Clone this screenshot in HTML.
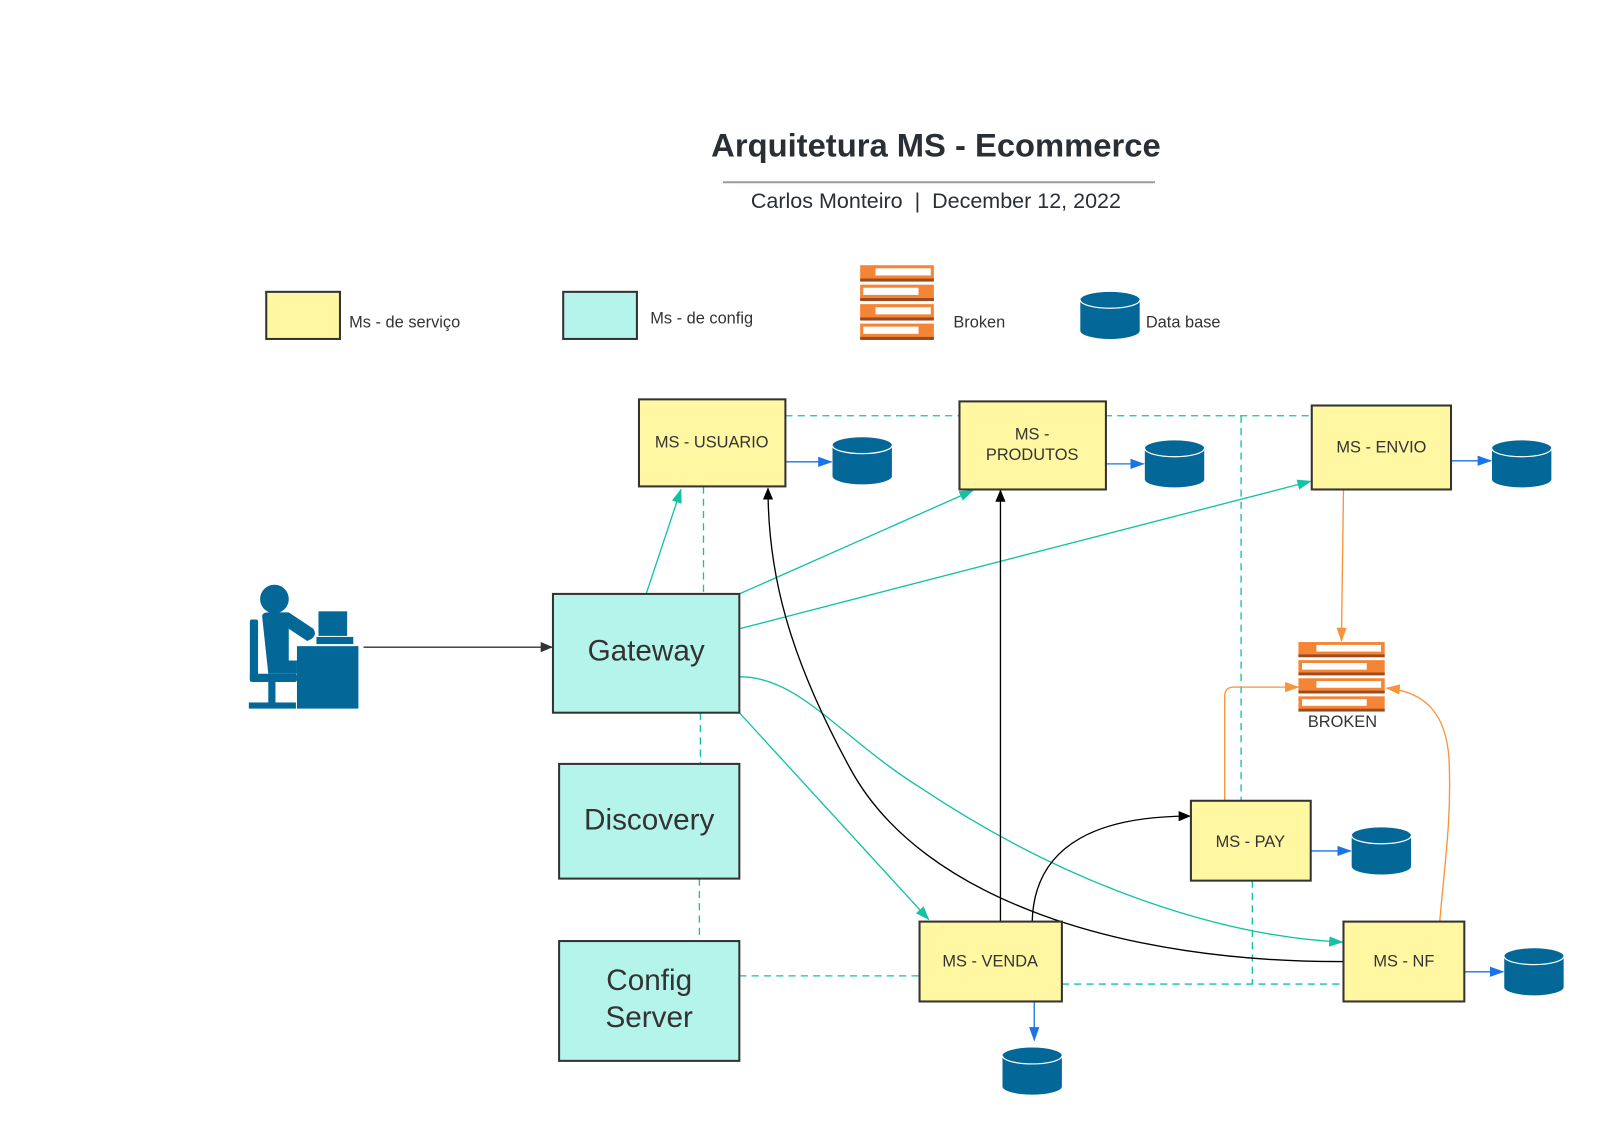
<!DOCTYPE html>
<html><head><meta charset="utf-8"><style>
html,body{margin:0;padding:0;background:#fff;}
svg{display:block;font-family:"Liberation Sans",Arial,sans-serif;}
</style></head><body>
<svg width="1606" height="1142" viewBox="0 0 1606 1142" xmlns="http://www.w3.org/2000/svg">
<defs>
<marker id="ad" markerWidth="12" markerHeight="10" refX="11" refY="5" orient="auto" markerUnits="userSpaceOnUse"><path d="M0,0 L12,5 L0,10 z" fill="#333"/></marker>
<marker id="ab" markerWidth="12" markerHeight="10" refX="11" refY="5" orient="auto" markerUnits="userSpaceOnUse"><path d="M0,0 L12,5 L0,10 z" fill="#000"/></marker>
<marker id="at" markerWidth="14" markerHeight="10" refX="13" refY="5" orient="auto" markerUnits="userSpaceOnUse"><path d="M0,0 L14,5 L0,10 z" fill="#11c2a6"/></marker>
<marker id="ao" markerWidth="14" markerHeight="10" refX="13" refY="5" orient="auto" markerUnits="userSpaceOnUse"><path d="M0,0 L14,5 L0,10 z" fill="#f7943a"/></marker>
<marker id="abl" markerWidth="14" markerHeight="10" refX="13" refY="5" orient="auto" markerUnits="userSpaceOnUse"><path d="M0,0 L14,5 L0,10 z" fill="#1a73e8"/></marker>
<g id="db"><path d="M0,8 A29,8 0 0 1 58,8 L58,38 A29,8 0 0 1 0,38 Z" fill="#036897"/><path d="M0,8 A29,8 0 0 0 58,8" fill="none" stroke="#fff" stroke-width="1.2"/></g>
<g id="brk">
<rect x="0" y="0" width="72" height="15" fill="#f58536"/><rect x="0" y="13" width="72" height="3" fill="#9c4a1e"/><rect x="15" y="3" width="54" height="7" fill="#fff"/>
<rect x="0" y="19" width="72" height="15" fill="#f58536"/><rect x="0" y="32" width="72" height="3" fill="#9c4a1e"/><rect x="3" y="22" width="54" height="7" fill="#fff"/>
<rect x="0" y="38" width="72" height="15" fill="#f58536"/><rect x="0" y="51" width="72" height="3" fill="#9c4a1e"/><rect x="15" y="41" width="54" height="7" fill="#fff"/>
<rect x="0" y="57" width="72" height="15" fill="#f58536"/><rect x="0" y="70" width="72" height="3" fill="#9c4a1e"/><rect x="3" y="60" width="54" height="7" fill="#fff"/>
</g>
</defs>
<g transform="scale(1.024)">
<text x="914" y="153" text-anchor="middle" font-size="32" font-weight="bold" fill="#2a2f36">Arquitetura MS - Ecommerce</text>
<line x1="706" y1="178" x2="1128" y2="178" stroke="#9a9ca3" stroke-width="2"/>
<text x="914" y="203" text-anchor="middle" font-size="21" fill="#2a2f36" xml:space="preserve">Carlos Monteiro&#160; | &#160;December 12, 2022</text>

<rect x="260" y="285" width="72" height="46" fill="#fff7a1" stroke="#333" stroke-width="2"/>
<text x="341" y="320" font-size="16" fill="#333">Ms - de serviço</text>
<rect x="550" y="285" width="72" height="46" fill="#b5f4ea" stroke="#333" stroke-width="2"/>
<text x="635" y="316" font-size="16" fill="#333">Ms - de config</text>
<use href="#brk" x="840" y="259"/>
<text x="931" y="320" font-size="16" fill="#333">Broken</text>
<use href="#db" x="1055" y="285"/>
<text x="1119" y="320" font-size="16" fill="#333">Data base</text>

<g stroke="#11c2a6" stroke-width="1.3" stroke-dasharray="7,5" fill="none">
<path d="M767,406 H1281"/>
<path d="M1212,406 V782"/>
<path d="M687,475 V580"/>
<path d="M684,696 V746"/>
<path d="M683,858 V919"/>
<path d="M722,953 H898"/>
<path d="M1037,961 H1312"/>
<path d="M1223,860 V961"/>
</g>

<g stroke="#11c2a6" stroke-width="1.3" fill="none" marker-end="url(#at)">
<path d="M631,580 L665,478"/>
<path d="M722,580 L950,479"/>
<path d="M722,614 L1280,470"/>
<path d="M722,661 C780,660 820,720 900,770 C1050,870 1200,915 1311,920"/>
<path d="M722,696 L907,898"/>
</g>

<path d="M355,632 H539" stroke="#333" stroke-width="1.3" fill="none" marker-end="url(#ad)"/>
<g stroke="#000" stroke-width="1.3" fill="none" marker-end="url(#ab)">
<path d="M977,900 V479"/>
<path d="M1312,939 C1100,940 900,880 830,750 C770,640 750,560 750,477"/>
<path d="M1008,900 C1010,820 1080,797 1162,797"/>
</g>

<g stroke="#f7943a" stroke-width="1.3" fill="none" marker-end="url(#ao)">
<path d="M1312,478 L1310,626"/>
<path d="M1196,782 V680 Q1196,671 1205,671 H1268"/>
<path d="M1406,900 C1410,850 1418,800 1415,740 C1412,700 1395,676 1354,672"/>
</g>

<g stroke="#1a73e8" stroke-width="1.3" fill="none" marker-end="url(#abl)">
<path d="M767,451 H812"/>
<path d="M1080,453 H1117"/>
<path d="M1417,450 H1456"/>
<path d="M1280,831 H1319"/>
<path d="M1430,949 H1468"/>
<path d="M1010,978 L1010,1016"/>
</g>

<use href="#db" x="813" y="427"/>
<use href="#db" x="1118" y="430"/>
<use href="#db" x="1457" y="430"/>
<use href="#db" x="1320" y="808"/>
<use href="#db" x="1469" y="926"/>
<use href="#db" x="979" y="1023"/>

<use href="#brk" x="1268" y="627" transform="translate(1268,627) scale(1.17,0.93) translate(-1268,-627)"/>
<text x="1311" y="710" text-anchor="middle" font-size="16" fill="#333">BROKEN</text>

<g fill="#fff7a1" stroke="#333" stroke-width="2">
<rect x="624" y="390" width="143" height="85"/>
<rect x="937" y="392" width="143" height="86"/>
<rect x="1281" y="396" width="136" height="82"/>
<rect x="898" y="900" width="139" height="78"/>
<rect x="1163" y="782" width="117" height="78"/>
<rect x="1312" y="900" width="118" height="78"/>
</g>
<g font-size="16" fill="#333" text-anchor="middle">
<text x="695" y="437">MS - USUARIO</text>
<text x="1008" y="429">MS -</text>
<text x="1008" y="449">PRODUTOS</text>
<text x="1349" y="442">MS - ENVIO</text>
<text x="967" y="944">MS - VENDA</text>
<text x="1221" y="827">MS - PAY</text>
<text x="1371" y="944">MS - NF</text>
</g>

<g fill="#b5f4ea" stroke="#333" stroke-width="2">
<rect x="540" y="580" width="182" height="116"/>
<rect x="546" y="746" width="176" height="112"/>
<rect x="546" y="919" width="176" height="117"/>
</g>
<g font-size="29" fill="#333" text-anchor="middle">
<text x="631" y="645">Gateway</text>
<text x="634" y="810">Discovery</text>
<text x="634" y="967">Config</text>
<text x="634" y="1003">Server</text>
</g>

<g fill="#036897">
<circle cx="268" cy="585" r="14"/>
<path d="M256,602 Q256,598 262,598 L282,598 L306,614 Q310,620 304,624 L300,626 L282,614 L282,645 L290,645 L290,658 L262,658 Z"/>
<rect x="244" y="605" width="8" height="60" rx="2"/>
<rect x="244" y="658" width="46" height="8" rx="2"/>
<rect x="262" y="666" width="7" height="22"/>
<rect x="243" y="686" width="46" height="6"/>
<rect x="311" y="597" width="28" height="24"/>
<rect x="309" y="622" width="36" height="7"/>
<rect x="290" y="631" width="60" height="61"/>
</g>
</g>
</svg>
</body></html>
